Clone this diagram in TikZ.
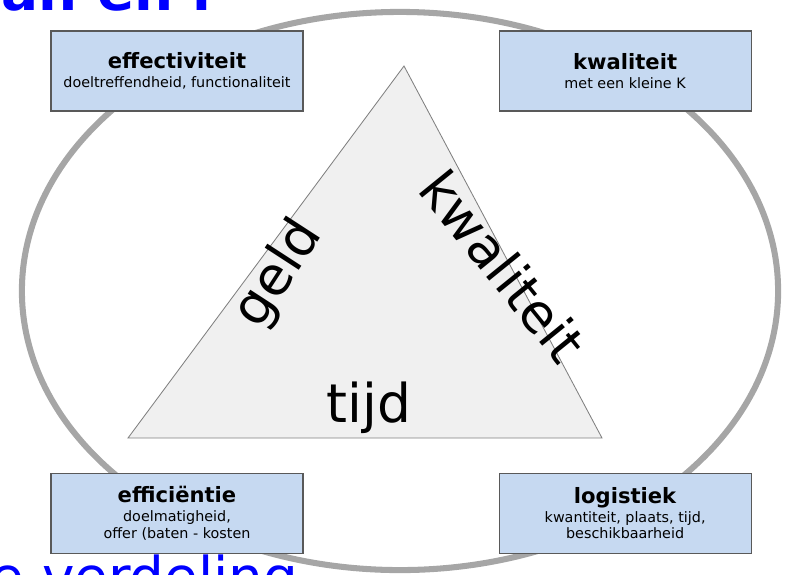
\documentclass[tikz,border=0pt]{standalone}
\usepackage{fontspec}
\setmainfont{DejaVu Sans}
\usetikzlibrary{positioning}
\definecolor{vakblauw}{HTML}{C6D9F1}
\definecolor{ringgrijs}{HTML}{A6A6A6}
\definecolor{titelblauw}{HTML}{0000FF}
\newcommand{\kop}[1]{{\fontsize{15}{18}\selectfont\bfseries #1}}

\begin{document}
\begin{tikzpicture}[x=0.025cm, y=-0.025cm,
		every node/.style={on grid},
		factor/.style={draw=black!65, line width=0.8pt, fill=vakblauw, minimum width=6.3cm, minimum height=2cm,
			align=center, inner sep=0pt, font=\fontsize{10.2}{12}\selectfont},
		hoek/.style={font=\fontsize{38}{44}\selectfont},
		titel/.style={text=titelblauw, font=\fontsize{39}{44}\selectfont},
		node distance=11.2cm]
	\clip (0,0) rectangle (794,574);
	
	% ring en driehoek
	\draw[ringgrijs, line width=4.3pt] (400,291) ellipse [x radius=9.45cm, y radius=6.975cm];
	\coordinate (links) at (128,438);
	\coordinate (rechts) at (602,438);
	\coordinate (top) at (404,66);
	\draw[black!50, fill=black!6, line width=0.6pt] (links) -- (top) -- (rechts) -- cycle;
	
	\node[hoek, rotate=57] (geld) at (279,274) {geld};
	\node[hoek, rotate=-51] (kwal) at (503,266) {kwaliteit};
	\node[hoek, anchor=base] (tijd) at (369,422) {tijd};
	
	% vakken
	\node[factor] (effectiviteit) at (177,71) {\kop{effectiviteit}\\[1.5pt]doeltreffendheid, functionaliteit};
	\node[factor, right=of effectiviteit] (kwaliteit) {\kop{kwaliteit}\\[1.5pt]met een kleine K};
	\node[factor, below=11.05cm of effectiviteit] (efficientie) {\kop{efficiëntie}\\[1.5pt]doelmatigheid,\\offer (baten - kosten};
	\node[factor, below=11.05cm of kwaliteit] (logistiek) {\kop{logistiek}\\[1.5pt]kwantiteit, plaats, tijd,\\beschikbaarheid};
	
	% afgesneden kopregels
	\node[titel, font=\fontsize{39}{44}\selectfont\bfseries, anchor=base west] (kopregel) at (-3,10) {an en l};
	\node[titel, anchor=base west] (onderregel) at (-14,596) {e verdeling};
\end{tikzpicture}
\end{document}
